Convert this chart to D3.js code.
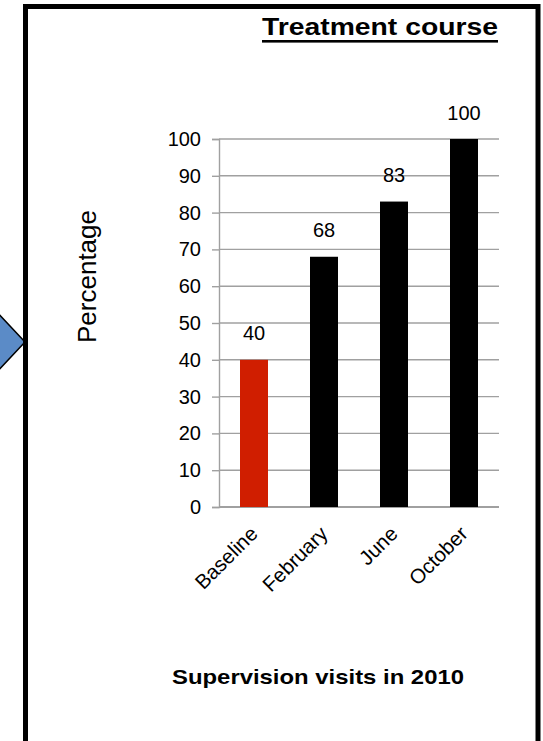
<!DOCTYPE html>
<html>
<head>
<meta charset="utf-8">
<script src="https://cdn.jsdelivr.net/npm/d3@7"></script>
<style>
  html, body { margin: 0; padding: 0; background: #fff; }
  svg { display: block; font-family: "Liberation Sans", Arial, sans-serif; }
</style>
</head>
<body>
<svg id="chart" width="543" height="741"></svg>
<script>
// Supervision visits and share of the treatment course completed
const categories = ["Baseline", "February", "June", "October"];
const values = [40, 68, 83, 100];
const barColors = ["#d01e00", "#000000", "#000000", "#000000"];
const yTicks = [0, 10, 20, 30, 40, 50, 60, 70, 80, 90, 100];

const svg = d3.select("#chart");

// Blue pointer arrow coming in from the left edge
svg.append("polygon")
  .attr("points", "-6,309 25,342 -6,375")
  .attr("fill", "#5b8bc7")
  .attr("stroke", "#000")
  .attr("stroke-width", 1.5);

// Panel frame
svg.append("rect")
  .attr("x", 25.5).attr("y", 6.5)
  .attr("width", 512.5).attr("height", 737)
  .attr("fill", "#fff")
  .attr("stroke", "#000")
  .attr("stroke-width", 5);

// Title, underlined
svg.append("text")
  .attr("x", 262).attr("y", 35)
  .attr("font-size", 23).attr("font-weight", "bold")
  .attr("textLength", 236).attr("lengthAdjust", "spacingAndGlyphs")
  .text("Treatment course");
svg.append("rect")
  .attr("x", 262).attr("y", 40)
  .attr("width", 236).attr("height", 2.6)
  .attr("fill", "#000");

// Scales
const x = d3.scaleBand()
  .domain(categories)
  .range([219, 499])
  .paddingInner(0.6)
  .paddingOuter(0.3);
const y = d3.scaleLinear().domain([0, 100]).range([507, 139]);

// Value axis
const yAxis = svg.append("g")
  .attr("transform", "translate(219,0)")
  .call(d3.axisLeft(y).tickValues(yTicks).tickSize(7).tickPadding(11));
yAxis.select(".domain").attr("stroke", "#a0a0a0").attr("stroke-width", 1.4);
yAxis.selectAll(".tick line").attr("stroke", "#a0a0a0").attr("stroke-width", 1.4);
yAxis.selectAll(".tick text")
  .attr("font-size", 20).attr("fill", "#000")
  .attr("font-family", "'Liberation Sans', Arial, sans-serif");

// Horizontal gridlines
svg.append("g").selectAll("line")
  .data(yTicks)
  .join("line")
  .attr("x1", 219).attr("x2", 499)
  .attr("y1", d => y(d)).attr("y2", d => y(d))
  .attr("stroke", "#a0a0a0")
  .attr("stroke-width", d => d === 0 ? 1.8 : 1.4);

// Bars
svg.append("g").selectAll("rect")
  .data(values)
  .join("rect")
  .attr("x", (d, i) => x(categories[i]))
  .attr("width", x.bandwidth())
  .attr("y", d => y(d))
  .attr("height", d => y(0) - y(d))
  .attr("fill", (d, i) => barColors[i]);

// Value labels
svg.append("g").selectAll("text")
  .data(values)
  .join("text")
  .attr("x", (d, i) => x(categories[i]) + x.bandwidth() / 2)
  .attr("y", d => y(d) - 19.5)
  .attr("text-anchor", "middle")
  .attr("font-size", 20)
  .text(d => d);

// Category labels, slanted
svg.append("g").selectAll("text")
  .data(categories)
  .join("text")
  .attr("transform", d => `translate(${x(d) + x.bandwidth() / 2 + 5},535) rotate(-45)`)
  .attr("text-anchor", "end")
  .attr("font-size", 20.5)
  .text(d => d);

// Axis titles
svg.append("text")
  .attr("transform", "translate(96,276.5) rotate(-90)")
  .attr("text-anchor", "middle")
  .attr("font-size", 26)
  .text("Percentage");

svg.append("text")
  .attr("x", 172).attr("y", 684)
  .attr("font-size", 21).attr("font-weight", "bold")
  .attr("textLength", 292).attr("lengthAdjust", "spacingAndGlyphs")
  .text("Supervision visits in 2010");
</script>
</body>
</html>
